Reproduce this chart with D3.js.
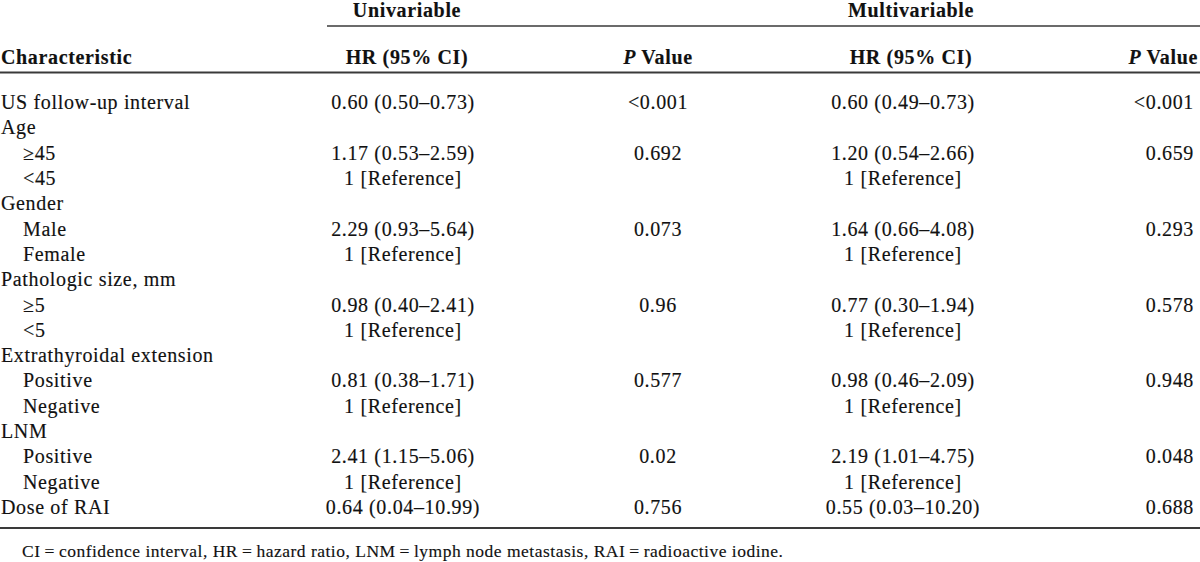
<!DOCTYPE html>
<html>
<head>
<meta charset="utf-8">
<script src="https://cdn.jsdelivr.net/npm/d3@7"></script>
<style>
  html, body { margin: 0; padding: 0; background: #fff; }
  svg text { font-family: "Liberation Serif", "Times New Roman", serif; fill: #111; stroke: #111; stroke-width: 0.15px; }
</style>
</head>
<body>
<svg id="chart" width="1200" height="562"></svg>
<script>
// ---- data ----
const groupHeaders = ["Univariable", "Multivariable"];
const columnHeaders = ["Characteristic", "HR (95% CI)", "P Value", "HR (95% CI)", "P Value"];
const characteristics = ["US follow-up interval", "Age", "\u226545", "<45", "Gender", "Male", "Female",
  "Pathologic size, mm", "\u22655", "<5", "Extrathyroidal extension", "Positive", "Negative",
  "LNM", "Positive", "Negative", "Dose of RAI"];
const indentLevel = [0, 0, 1, 1, 0, 1, 1, 0, 1, 1, 0, 1, 1, 0, 1, 1, 0];
const uniHR = ["0.60 (0.50\u20130.73)", "", "1.17 (0.53\u20132.59)", "1 [Reference]", "", "2.29 (0.93\u20135.64)", "1 [Reference]",
  "", "0.98 (0.40\u20132.41)", "1 [Reference]", "", "0.81 (0.38\u20131.71)", "1 [Reference]",
  "", "2.41 (1.15\u20135.06)", "1 [Reference]", "0.64 (0.04\u201310.99)"];
const uniP = ["<0.001", "", "0.692", "", "", "0.073", "", "", "0.96", "", "", "0.577", "", "", "0.02", "", "0.756"];
const multiHR = ["0.60 (0.49\u20130.73)", "", "1.20 (0.54\u20132.66)", "1 [Reference]", "", "1.64 (0.66\u20134.08)", "1 [Reference]",
  "", "0.77 (0.30\u20131.94)", "1 [Reference]", "", "0.98 (0.46\u20132.09)", "1 [Reference]",
  "", "2.19 (1.01\u20134.75)", "1 [Reference]", "0.55 (0.03\u201310.20)"];
const multiP = ["<0.001", "", "0.659", "", "", "0.293", "", "", "0.578", "", "", "0.948", "", "", "0.048", "", "0.688"];
const footnote = "CI\u2009=\u2009confidence interval, HR\u2009=\u2009hazard ratio, LNM\u2009=\u2009lymph node metastasis, RAI\u2009=\u2009radioactive iodine.";

// ---- layout ----
const svg = d3.select("#chart");
const W = 1200;
const fs = 20;
const ls = "0.65px";
const lineColor = "#3a3a3a";

const y = d3.scalePoint().domain(d3.range(characteristics.length)).range([102, 507]);
const col = { uniHR: 403, uniP: 658, multiHR: 903, multiP: 1194 };

function txt(g, x, yy, s, anchor, bold) {
  return g.append("text").attr("x", x).attr("y", yy).attr("dy", "0.35em")
    .attr("text-anchor", anchor).attr("font-size", fs).attr("letter-spacing", ls)
    .attr("font-weight", bold ? "bold" : "normal").text(s);
}

// rules
svg.append("line").attr("x1", 327).attr("x2", W).attr("y1", 26).attr("y2", 26)
  .attr("stroke", lineColor).attr("stroke-width", 1.6);
svg.append("line").attr("x1", 0).attr("x2", W).attr("y1", 72.5).attr("y2", 72.5)
  .attr("stroke", lineColor).attr("stroke-width", 2.2);
svg.append("line").attr("x1", 0).attr("x2", W).attr("y1", 528).attr("y2", 528)
  .attr("stroke", lineColor).attr("stroke-width", 2.2);

// group headers
const hg = svg.append("g");
txt(hg, 407, 10, groupHeaders[0], "middle", true);
txt(hg, 911, 10, groupHeaders[1], "middle", true);

// column headers
const hy = 57;
txt(hg, 1, hy, columnHeaders[0], "start", true);
txt(hg, 407, hy, columnHeaders[1], "middle", true);
txt(hg, 911, hy, columnHeaders[3], "middle", true);
function pHeader(x, anchor) {
  const t = hg.append("text").attr("x", x).attr("y", hy).attr("dy", "0.35em")
    .attr("text-anchor", anchor).attr("font-size", fs).attr("letter-spacing", ls).attr("font-weight", "bold");
  t.append("tspan").attr("font-style", "italic").text("P");
  t.append("tspan").text(" Value");
}
pHeader(658, "middle");
pHeader(1198, "end");

// body
const body = svg.append("g");
characteristics.forEach((c, i) => {
  const yy = y(i);
  txt(body, 1 + indentLevel[i] * 22, yy, c, "start", false);
  if (uniHR[i]) txt(body, col.uniHR, yy, uniHR[i], "middle", false);
  if (uniP[i]) txt(body, col.uniP, yy, uniP[i], "middle", false);
  if (multiHR[i]) txt(body, col.multiHR, yy, multiHR[i], "middle", false);
  if (multiP[i]) txt(body, col.multiP, yy, multiP[i], "end", false);
});

// footnote
svg.append("text").attr("x", 22).attr("y", 551).attr("dy", "0.35em")
  .attr("font-size", 17.5).attr("letter-spacing", "0.5px").text(footnote);
</script>
</body>
</html>
